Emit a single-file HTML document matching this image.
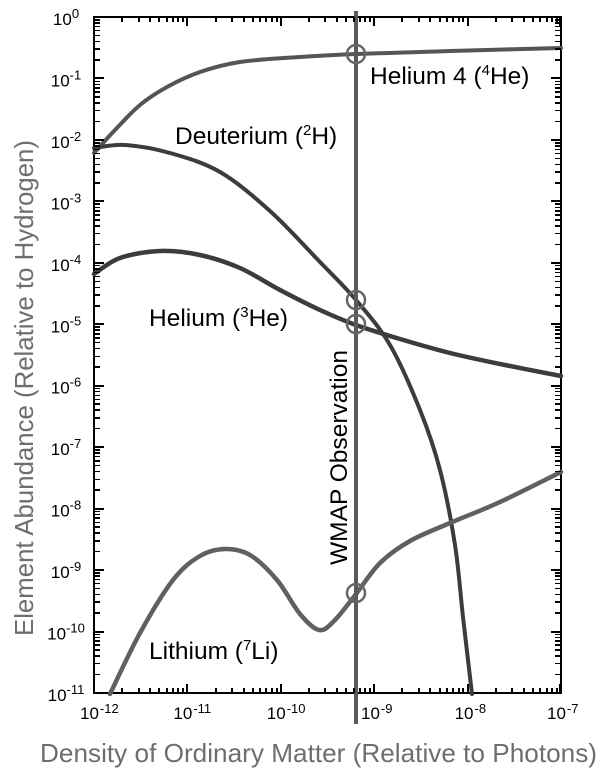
<!DOCTYPE html>
<html>
<head>
<meta charset="utf-8">
<style>
  html,body{margin:0;padding:0;background:#fff;}
  #wrap{position:relative;width:600px;height:782px;overflow:hidden;}
  svg{display:block;position:absolute;left:0;top:0;}
  text{font-family:"Liberation Sans",Arial,sans-serif;}
  .t{position:absolute;display:block;background:#000;}
  .bM{top:684px;width:2px;height:9px;}
  .bm{top:688px;width:2px;height:5px;}
  .tM{top:17px;width:2px;height:9px;}
  .tm{top:17px;width:2px;height:5px;}
  .lM{left:94px;width:10px;height:2px;}
  .lm{left:94px;width:6px;height:1.5px;}
  .rM{left:551px;width:10px;height:2px;}
  .rm{left:555px;width:6px;height:1.5px;}
</style>
</head>
<body>
<div id="wrap">
<svg xmlns="http://www.w3.org/2000/svg" width="600" height="782" viewBox="0 0 600 782">
  <rect width="600" height="782" fill="#fff"/>

  <!-- frame -->
  <rect x="94" y="17" width="467" height="676" fill="none" stroke="#000" stroke-width="2"/>

  <!-- curves -->
  <path fill="none" stroke-linecap="round" stroke-linejoin="round" stroke="#555" stroke-width="4" d="M94,153 C97.5,149.17 107.33,138 115,130 C122.67,122 131.33,112.17 140,105 C148.67,97.83 157,92.5 167,87 C177,81.5 187.83,76.17 200,72 C212.17,67.83 223.33,64.5 240,62 C256.67,59.5 280.67,58.33 300,57 C319.33,55.67 331,55 356,54 C381,53 415.83,52 450,51 C484.17,50 542.5,48.5 561,48"/>
  <path fill="none" stroke-linecap="round" stroke-linejoin="round" stroke="#3c3c3c" stroke-width="4" d="M94,148 C99.17,147.5 112.33,144.17 125,145 C137.67,145.83 154.17,148.5 170,153 C185.83,157.5 203.33,162.33 220,172 C236.67,181.67 253.33,196 270,211 C286.67,226 305.67,247.17 320,262 C334.33,276.83 344.33,286.17 356,300 C367.67,313.83 379.33,326.67 390,345 C400.67,363.33 411.67,389.17 420,410 C428.33,430.83 434.17,447.5 440,470 C445.83,492.5 451.17,520.5 455,545 C458.83,569.5 460.17,592.17 463,617 C465.83,641.83 470.5,681.17 472,694"/>
  <path fill="none" stroke-linecap="round" stroke-linejoin="round" stroke="#3c3c3c" stroke-width="4.5" d="M94,274 C98.33,271.33 109,261.83 120,258 C131,254.17 146.67,251.5 160,251 C173.33,250.5 186.67,252.17 200,255 C213.33,257.83 226.67,262.17 240,268 C253.33,273.83 266.67,283 280,290 C293.33,297 307.33,304.17 320,310 C332.67,315.83 342.67,320.17 356,325 C369.33,329.83 384.33,334.33 400,339 C415.67,343.67 433.33,348.83 450,353 C466.67,357.17 481.5,360.17 500,364 C518.5,367.83 550.83,374 561,376"/>
  <path fill="none" stroke-linecap="round" stroke-linejoin="round" stroke="#606060" stroke-width="4.5" d="M110,694 C115,683.83 129.5,652 140,633 C150.5,614 163,592.83 173,580 C183,567.17 191.33,561.17 200,556 C208.67,550.83 216.67,549.17 225,549 C233.33,548.83 241.33,549.83 250,555 C258.67,560.17 268.67,570.17 277,580 C285.33,589.83 293,605.67 300,614 C307,622.33 313.33,628.83 319,630 C324.67,631.17 327.83,627 334,621 C340.17,615 348.33,603.67 356,594 C363.67,584.33 371,571.83 380,563 C389,554.17 398.33,547.67 410,541 C421.67,534.33 435,529.5 450,523 C465,516.5 481.5,510.5 500,502 C518.5,493.5 550.83,477 561,472"/>

  <!-- WMAP line -->
  <line x1="356" y1="11" x2="356" y2="724" stroke="#5a5a5a" stroke-width="4"/>

  <!-- circles -->
  <circle cx="356" cy="54" r="9" fill="none" stroke="#666" stroke-width="2.5"/>
  <circle cx="356" cy="300" r="9" fill="none" stroke="#666" stroke-width="2.5"/>
  <circle cx="356" cy="324" r="9" fill="none" stroke="#666" stroke-width="2.5"/>
  <circle cx="356" cy="593" r="9" fill="none" stroke="#666" stroke-width="2.5"/>

  <!-- series labels -->
  <g fill="#000" font-size="24.5">
    <text x="370" y="84">Helium 4 (<tspan font-size="15" dy="-9">4</tspan><tspan dy="9">He)</tspan></text>
    <text x="175" y="144">Deuterium (<tspan font-size="15" dy="-9">2</tspan><tspan dy="9">H)</tspan></text>
    <text x="149" y="326">Helium (<tspan font-size="15" dy="-9">3</tspan><tspan dy="9">He)</tspan></text>
    <text x="149" y="659">Lithium (<tspan font-size="15" dy="-9">7</tspan><tspan dy="9">Li)</tspan></text>
    <text transform="translate(347,565) rotate(-90)" textLength="215" lengthAdjust="spacingAndGlyphs">WMAP Observation</text>
  </g>

  <!-- y tick labels -->
  <g fill="#000" font-size="17" text-anchor="middle">
    <text x="66" y="25">10<tspan dy="-7" font-size="13">0</tspan></text>
    <text x="66" y="86.45">10<tspan dy="-7" font-size="13">-1</tspan></text>
    <text x="66" y="147.9">10<tspan dy="-7" font-size="13">-2</tspan></text>
    <text x="66" y="209.35">10<tspan dy="-7" font-size="13">-3</tspan></text>
    <text x="66" y="270.8">10<tspan dy="-7" font-size="13">-4</tspan></text>
    <text x="66" y="332.25">10<tspan dy="-7" font-size="13">-5</tspan></text>
    <text x="66" y="393.7">10<tspan dy="-7" font-size="13">-6</tspan></text>
    <text x="66" y="455.15">10<tspan dy="-7" font-size="13">-7</tspan></text>
    <text x="66" y="516.6">10<tspan dy="-7" font-size="13">-8</tspan></text>
    <text x="66" y="578.05">10<tspan dy="-7" font-size="13">-9</tspan></text>
    <text x="66" y="639.5">10<tspan dy="-7" font-size="13">-10</tspan></text>
    <text x="66" y="700.95">10<tspan dy="-7" font-size="13">-11</tspan></text>
  </g>

  <!-- x tick labels -->
  <g fill="#000" font-size="17">
    <text x="80" y="719">10<tspan dy="-6" dx="1" font-size="13">-12</tspan></text>
    <text x="173.4" y="719">10<tspan dy="-6" dx="1" font-size="13">-11</tspan></text>
    <text x="266.8" y="719">10<tspan dy="-6" dx="1" font-size="13">-10</tspan></text>
    <text x="361" y="719">10<tspan dy="-6" dx="1" font-size="13">-9</tspan></text>
    <text x="454.6" y="719">10<tspan dy="-6" dx="1" font-size="13">-8</tspan></text>
    <text x="547" y="719">10<tspan dy="-6" dx="1" font-size="13">-7</tspan></text>
  </g>

  <!-- axis titles -->
  <text transform="translate(33,388) rotate(-90)" text-anchor="middle" font-size="26" fill="#6e6e6e" textLength="496" lengthAdjust="spacingAndGlyphs">Element Abundance (Relative to Hydrogen)</text>
  <text x="40" y="762" font-size="26" fill="#6e6e6e" textLength="557" lengthAdjust="spacingAndGlyphs">Density of Ordinary Matter (Relative to Photons)</text>
</svg>

<!-- bottom ticks -->
<i class="t bM" style="left:93px"></i><i class="t bM" style="left:186.4px"></i><i class="t bM" style="left:279.8px"></i><i class="t bM" style="left:373.2px"></i><i class="t bM" style="left:466.6px"></i><i class="t bM" style="left:559px"></i>
<i class="t bm" style="left:121.1px"></i><i class="t bm" style="left:137.6px"></i><i class="t bm" style="left:149.2px"></i><i class="t bm" style="left:158.3px"></i><i class="t bm" style="left:165.7px"></i><i class="t bm" style="left:171.9px"></i><i class="t bm" style="left:177.3px"></i><i class="t bm" style="left:182.1px"></i>
<i class="t bm" style="left:214.5px"></i><i class="t bm" style="left:231px"></i><i class="t bm" style="left:242.6px"></i><i class="t bm" style="left:251.7px"></i><i class="t bm" style="left:259.1px"></i><i class="t bm" style="left:265.3px"></i><i class="t bm" style="left:270.7px"></i><i class="t bm" style="left:275.5px"></i>
<i class="t bm" style="left:307.9px"></i><i class="t bm" style="left:324.4px"></i><i class="t bm" style="left:336px"></i><i class="t bm" style="left:345.1px"></i><i class="t bm" style="left:352.5px"></i><i class="t bm" style="left:358.7px"></i><i class="t bm" style="left:364.1px"></i><i class="t bm" style="left:368.9px"></i>
<i class="t bm" style="left:401.3px"></i><i class="t bm" style="left:417.8px"></i><i class="t bm" style="left:429.4px"></i><i class="t bm" style="left:438.5px"></i><i class="t bm" style="left:445.9px"></i><i class="t bm" style="left:452.1px"></i><i class="t bm" style="left:457.5px"></i><i class="t bm" style="left:462.3px"></i>
<i class="t bm" style="left:494.7px"></i><i class="t bm" style="left:511.2px"></i><i class="t bm" style="left:522.8px"></i><i class="t bm" style="left:531.9px"></i><i class="t bm" style="left:539.3px"></i><i class="t bm" style="left:545.5px"></i><i class="t bm" style="left:550.9px"></i><i class="t bm" style="left:555.7px"></i>

<!-- top ticks -->
<i class="t tM" style="left:93px"></i><i class="t tM" style="left:186.4px"></i><i class="t tM" style="left:279.8px"></i><i class="t tM" style="left:373.2px"></i><i class="t tM" style="left:466.6px"></i><i class="t tM" style="left:559px"></i>
<i class="t tm" style="left:121.1px"></i><i class="t tm" style="left:137.6px"></i><i class="t tm" style="left:149.2px"></i><i class="t tm" style="left:158.3px"></i><i class="t tm" style="left:165.7px"></i><i class="t tm" style="left:171.9px"></i><i class="t tm" style="left:177.3px"></i><i class="t tm" style="left:182.1px"></i>
<i class="t tm" style="left:214.5px"></i><i class="t tm" style="left:231px"></i><i class="t tm" style="left:242.6px"></i><i class="t tm" style="left:251.7px"></i><i class="t tm" style="left:259.1px"></i><i class="t tm" style="left:265.3px"></i><i class="t tm" style="left:270.7px"></i><i class="t tm" style="left:275.5px"></i>
<i class="t tm" style="left:307.9px"></i><i class="t tm" style="left:324.4px"></i><i class="t tm" style="left:336px"></i><i class="t tm" style="left:345.1px"></i><i class="t tm" style="left:352.5px"></i><i class="t tm" style="left:358.7px"></i><i class="t tm" style="left:364.1px"></i><i class="t tm" style="left:368.9px"></i>
<i class="t tm" style="left:401.3px"></i><i class="t tm" style="left:417.8px"></i><i class="t tm" style="left:429.4px"></i><i class="t tm" style="left:438.5px"></i><i class="t tm" style="left:445.9px"></i><i class="t tm" style="left:452.1px"></i><i class="t tm" style="left:457.5px"></i><i class="t tm" style="left:462.3px"></i>
<i class="t tm" style="left:494.7px"></i><i class="t tm" style="left:511.2px"></i><i class="t tm" style="left:522.8px"></i><i class="t tm" style="left:531.9px"></i><i class="t tm" style="left:539.3px"></i><i class="t tm" style="left:545.5px"></i><i class="t tm" style="left:550.9px"></i><i class="t tm" style="left:555.7px"></i>

<!-- left ticks -->
<i class="t lM" style="top:16px"></i><i class="t lM" style="top:77.45px"></i><i class="t lM" style="top:138.9px"></i><i class="t lM" style="top:200.35px"></i><i class="t lM" style="top:261.8px"></i><i class="t lM" style="top:323.25px"></i><i class="t lM" style="top:384.7px"></i><i class="t lM" style="top:446.15px"></i><i class="t lM" style="top:507.6px"></i><i class="t lM" style="top:569.05px"></i><i class="t lM" style="top:630.5px"></i><i class="t lM" style="top:692px"></i>
<i class="t lm" style="top:19.1px"></i><i class="t lm" style="top:22.2px"></i><i class="t lm" style="top:25.8px"></i><i class="t lm" style="top:29.9px"></i><i class="t lm" style="top:34.7px"></i><i class="t lm" style="top:40.7px"></i><i class="t lm" style="top:48.4px"></i><i class="t lm" style="top:59.2px"></i>
<i class="t lm" style="top:80.55px"></i><i class="t lm" style="top:83.65px"></i><i class="t lm" style="top:87.25px"></i><i class="t lm" style="top:91.35px"></i><i class="t lm" style="top:96.15px"></i><i class="t lm" style="top:102.15px"></i><i class="t lm" style="top:109.85px"></i><i class="t lm" style="top:120.65px"></i>
<i class="t lm" style="top:142px"></i><i class="t lm" style="top:145.1px"></i><i class="t lm" style="top:148.7px"></i><i class="t lm" style="top:152.8px"></i><i class="t lm" style="top:157.6px"></i><i class="t lm" style="top:163.6px"></i><i class="t lm" style="top:171.3px"></i><i class="t lm" style="top:182.1px"></i>
<i class="t lm" style="top:203.45px"></i><i class="t lm" style="top:206.55px"></i><i class="t lm" style="top:210.15px"></i><i class="t lm" style="top:214.25px"></i><i class="t lm" style="top:219.05px"></i><i class="t lm" style="top:225.05px"></i><i class="t lm" style="top:232.75px"></i><i class="t lm" style="top:243.55px"></i>
<i class="t lm" style="top:264.9px"></i><i class="t lm" style="top:268px"></i><i class="t lm" style="top:271.6px"></i><i class="t lm" style="top:275.7px"></i><i class="t lm" style="top:280.5px"></i><i class="t lm" style="top:286.5px"></i><i class="t lm" style="top:294.2px"></i><i class="t lm" style="top:305px"></i>
<i class="t lm" style="top:326.35px"></i><i class="t lm" style="top:329.45px"></i><i class="t lm" style="top:333.05px"></i><i class="t lm" style="top:337.15px"></i><i class="t lm" style="top:341.95px"></i><i class="t lm" style="top:347.95px"></i><i class="t lm" style="top:355.65px"></i><i class="t lm" style="top:366.45px"></i>
<i class="t lm" style="top:387.8px"></i><i class="t lm" style="top:390.9px"></i><i class="t lm" style="top:394.5px"></i><i class="t lm" style="top:398.6px"></i><i class="t lm" style="top:403.4px"></i><i class="t lm" style="top:409.4px"></i><i class="t lm" style="top:417.1px"></i><i class="t lm" style="top:427.9px"></i>
<i class="t lm" style="top:449.25px"></i><i class="t lm" style="top:452.35px"></i><i class="t lm" style="top:455.95px"></i><i class="t lm" style="top:460.05px"></i><i class="t lm" style="top:464.85px"></i><i class="t lm" style="top:470.85px"></i><i class="t lm" style="top:478.55px"></i><i class="t lm" style="top:489.35px"></i>
<i class="t lm" style="top:510.7px"></i><i class="t lm" style="top:513.8px"></i><i class="t lm" style="top:517.4px"></i><i class="t lm" style="top:521.5px"></i><i class="t lm" style="top:526.3px"></i><i class="t lm" style="top:532.3px"></i><i class="t lm" style="top:540px"></i><i class="t lm" style="top:550.8px"></i>
<i class="t lm" style="top:572.15px"></i><i class="t lm" style="top:575.25px"></i><i class="t lm" style="top:578.85px"></i><i class="t lm" style="top:582.95px"></i><i class="t lm" style="top:587.75px"></i><i class="t lm" style="top:593.75px"></i><i class="t lm" style="top:601.45px"></i><i class="t lm" style="top:612.25px"></i>
<i class="t lm" style="top:633.6px"></i><i class="t lm" style="top:636.7px"></i><i class="t lm" style="top:640.3px"></i><i class="t lm" style="top:644.4px"></i><i class="t lm" style="top:649.2px"></i><i class="t lm" style="top:655.2px"></i><i class="t lm" style="top:662.9px"></i><i class="t lm" style="top:673.7px"></i>

<!-- right ticks -->
<i class="t rM" style="top:16px"></i><i class="t rM" style="top:77.45px"></i><i class="t rM" style="top:138.9px"></i><i class="t rM" style="top:200.35px"></i><i class="t rM" style="top:261.8px"></i><i class="t rM" style="top:323.25px"></i><i class="t rM" style="top:384.7px"></i><i class="t rM" style="top:446.15px"></i><i class="t rM" style="top:507.6px"></i><i class="t rM" style="top:569.05px"></i><i class="t rM" style="top:630.5px"></i><i class="t rM" style="top:692px"></i>
<i class="t rm" style="top:19.1px"></i><i class="t rm" style="top:22.2px"></i><i class="t rm" style="top:25.8px"></i><i class="t rm" style="top:29.9px"></i><i class="t rm" style="top:34.7px"></i><i class="t rm" style="top:40.7px"></i><i class="t rm" style="top:48.4px"></i><i class="t rm" style="top:59.2px"></i>
<i class="t rm" style="top:80.55px"></i><i class="t rm" style="top:83.65px"></i><i class="t rm" style="top:87.25px"></i><i class="t rm" style="top:91.35px"></i><i class="t rm" style="top:96.15px"></i><i class="t rm" style="top:102.15px"></i><i class="t rm" style="top:109.85px"></i><i class="t rm" style="top:120.65px"></i>
<i class="t rm" style="top:142px"></i><i class="t rm" style="top:145.1px"></i><i class="t rm" style="top:148.7px"></i><i class="t rm" style="top:152.8px"></i><i class="t rm" style="top:157.6px"></i><i class="t rm" style="top:163.6px"></i><i class="t rm" style="top:171.3px"></i><i class="t rm" style="top:182.1px"></i>
<i class="t rm" style="top:203.45px"></i><i class="t rm" style="top:206.55px"></i><i class="t rm" style="top:210.15px"></i><i class="t rm" style="top:214.25px"></i><i class="t rm" style="top:219.05px"></i><i class="t rm" style="top:225.05px"></i><i class="t rm" style="top:232.75px"></i><i class="t rm" style="top:243.55px"></i>
<i class="t rm" style="top:264.9px"></i><i class="t rm" style="top:268px"></i><i class="t rm" style="top:271.6px"></i><i class="t rm" style="top:275.7px"></i><i class="t rm" style="top:280.5px"></i><i class="t rm" style="top:286.5px"></i><i class="t rm" style="top:294.2px"></i><i class="t rm" style="top:305px"></i>
<i class="t rm" style="top:326.35px"></i><i class="t rm" style="top:329.45px"></i><i class="t rm" style="top:333.05px"></i><i class="t rm" style="top:337.15px"></i><i class="t rm" style="top:341.95px"></i><i class="t rm" style="top:347.95px"></i><i class="t rm" style="top:355.65px"></i><i class="t rm" style="top:366.45px"></i>
<i class="t rm" style="top:387.8px"></i><i class="t rm" style="top:390.9px"></i><i class="t rm" style="top:394.5px"></i><i class="t rm" style="top:398.6px"></i><i class="t rm" style="top:403.4px"></i><i class="t rm" style="top:409.4px"></i><i class="t rm" style="top:417.1px"></i><i class="t rm" style="top:427.9px"></i>
<i class="t rm" style="top:449.25px"></i><i class="t rm" style="top:452.35px"></i><i class="t rm" style="top:455.95px"></i><i class="t rm" style="top:460.05px"></i><i class="t rm" style="top:464.85px"></i><i class="t rm" style="top:470.85px"></i><i class="t rm" style="top:478.55px"></i><i class="t rm" style="top:489.35px"></i>
<i class="t rm" style="top:510.7px"></i><i class="t rm" style="top:513.8px"></i><i class="t rm" style="top:517.4px"></i><i class="t rm" style="top:521.5px"></i><i class="t rm" style="top:526.3px"></i><i class="t rm" style="top:532.3px"></i><i class="t rm" style="top:540px"></i><i class="t rm" style="top:550.8px"></i>
<i class="t rm" style="top:572.15px"></i><i class="t rm" style="top:575.25px"></i><i class="t rm" style="top:578.85px"></i><i class="t rm" style="top:582.95px"></i><i class="t rm" style="top:587.75px"></i><i class="t rm" style="top:593.75px"></i><i class="t rm" style="top:601.45px"></i><i class="t rm" style="top:612.25px"></i>
<i class="t rm" style="top:633.6px"></i><i class="t rm" style="top:636.7px"></i><i class="t rm" style="top:640.3px"></i><i class="t rm" style="top:644.4px"></i><i class="t rm" style="top:649.2px"></i><i class="t rm" style="top:655.2px"></i><i class="t rm" style="top:662.9px"></i><i class="t rm" style="top:673.7px"></i>
</div>
</body>
</html>
